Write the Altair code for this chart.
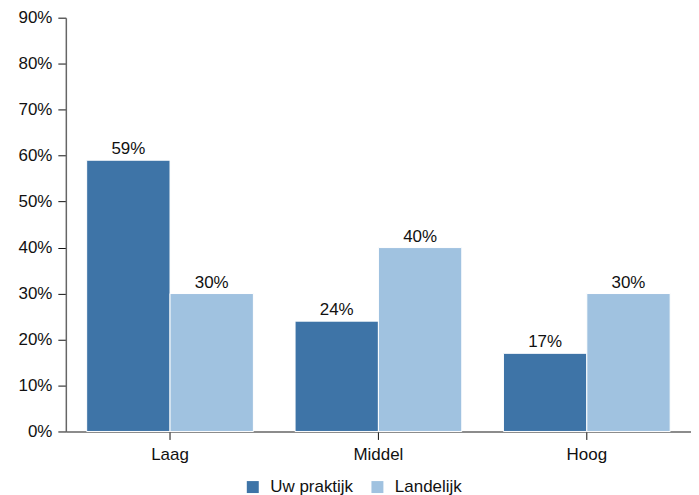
import altair as alt
import pandas as pd

categories = ["Laag", "Middel", "Hoog"]
series = ["Uw praktijk", "Landelijk"]
uw_praktijk = [0.59, 0.24, 0.17]
landelijk = [0.30, 0.40, 0.30]
colors = ["#3e74a7", "#a0c2e0"]

rows = []
for i, c in enumerate(categories):
    rows.append({"cat": c, "serie": series[0], "value": uw_praktijk[i]})
    rows.append({"cat": c, "serie": series[1], "value": landelijk[i]})
df = pd.DataFrame(rows)

font = "Liberation Sans"
fs = 17

base = alt.Chart(df).encode(
    x=alt.X("cat:N", sort=categories, title=None,
            scale=alt.Scale(paddingInner=0.2, paddingOuter=0.1),
            axis=alt.Axis(labelAngle=0, labelFontSize=fs, labelColor="#111",
                          labelFont=font, domainColor="#666", domainWidth=1.5,
                          tickColor="#111", tickSize=8, labelPadding=7)),
    xOffset=alt.XOffset("serie:N", sort=series),
    y=alt.Y("value:Q", title=None,
            scale=alt.Scale(domain=[0, 0.9], nice=False),
            axis=alt.Axis(values=[i / 10 for i in range(10)], format=".0%",
                          labelFontSize=fs, labelColor="#111", labelFont=font,
                          domainColor="#666", domainWidth=1.5, tickColor="#111",
                          tickSize=8, grid=False, labelPadding=6)),
)

bars = base.mark_bar(stroke="white", strokeWidth=1).encode(
    color=alt.Color("serie:N", sort=series,
                    scale=alt.Scale(domain=series, range=colors),
                    legend=alt.Legend(title=None, orient="none", direction="horizontal",
                                      legendX=179, legendY=462, padding=0,
                                      labelFontSize=fs, labelFont=font, labelColor="#111",
                                      symbolType="square", symbolSize=144, labelOffset=9,
                                      symbolStrokeWidth=0, columnPadding=15))
)

labels = base.mark_text(baseline="alphabetic", dy=-6, fontSize=fs, font=font,
                        color="#111").encode(
    text=alt.Text("value:Q", format=".0%")
)

chart = (bars + labels).properties(
    width=627, height=415,
    autosize=alt.AutoSizeParams(type="none"),
    padding={"left": 58, "top": 9, "right": 0, "bottom": 64},
).configure_view(stroke=None)

chart.save("out.html", embed_options={"renderer": "svg", "actions": False})
